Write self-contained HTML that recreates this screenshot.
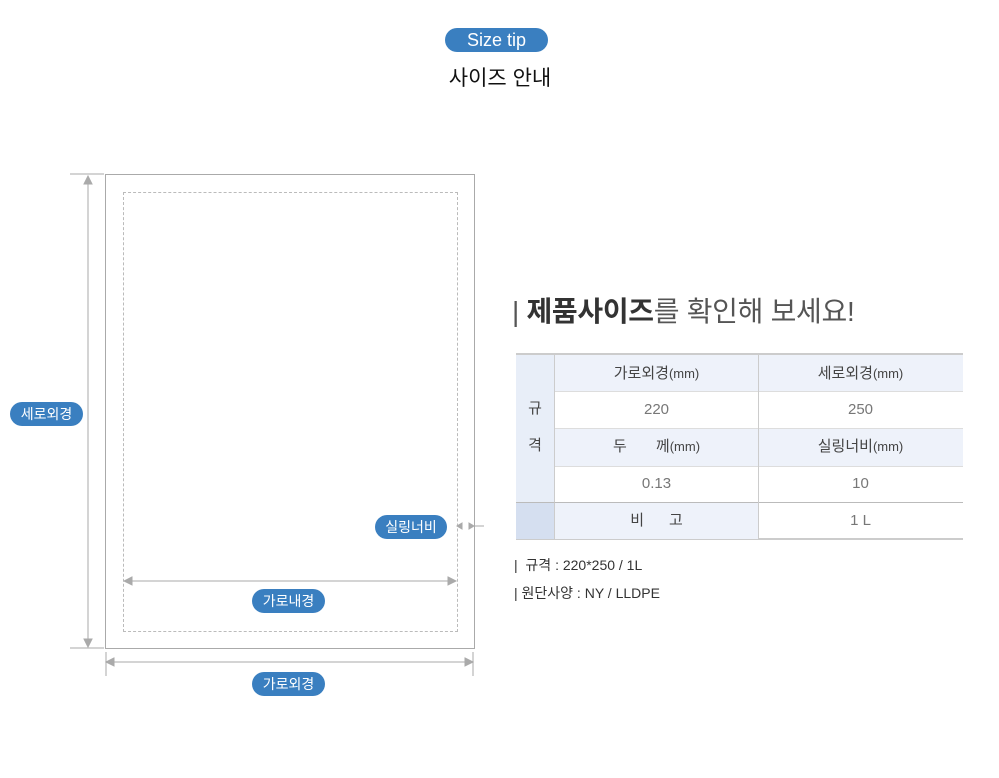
<!DOCTYPE html>
<html><head><meta charset="utf-8"><style>
body{margin:0;width:999px;height:778px;background:#fff;position:relative;font-family:"Liberation Sans","Noto Sans CJK KR",sans-serif;overflow:hidden}
.a{position:absolute}
.pill{position:absolute;background:#3a7fc0;color:#fff;border-radius:12px;text-align:center;font-size:14px;line-height:24px;height:24px}
.c{position:absolute;text-align:center;font-size:15px;color:#444;line-height:37px}
.v{color:#777}
</style></head><body>
<div class="pill" style="left:445px;top:28px;width:103px;height:24px;font-size:18px;line-height:24px">Size tip</div>
<div class="a" style="left:400px;top:62px;width:200px;text-align:center;font-size:21px;color:#111">사이즈 안내</div>

<div class="a" style="left:105px;top:174px;width:368px;height:473px;border:1px solid #aaa"></div>
<div class="a" style="left:123px;top:192px;width:333px;height:438px;border:1px dashed #bbb"></div>
<svg class="a" style="left:0;top:0" width="999" height="778">
<g stroke="#aaa" fill="#aaa">
<line x1="88" y1="176" x2="88" y2="647"/><path d="M84 184 L88 176 L92 184Z"/><path d="M84 639 L88 647 L92 639Z"/>
<line x1="70" y1="174" x2="104" y2="174"/><line x1="70" y1="648" x2="104" y2="648"/>
<line x1="124" y1="581" x2="456" y2="581"/><path d="M132 577 L124 581 L132 585Z"/><path d="M448 577 L456 581 L448 585Z"/>
<line x1="106" y1="662" x2="473" y2="662"/><path d="M114 658 L106 662 L114 666Z"/><path d="M465 658 L473 662 L465 666Z"/>
<line x1="106" y1="652" x2="106" y2="676"/><line x1="473" y1="652" x2="473" y2="676"/>
<line x1="474" y1="526" x2="484" y2="526"/><path d="M462 523 L457 526 L462 529Z"/><path d="M469 523 L474 526 L469 529Z"/>
</g></svg>
<div class="pill" style="left:10px;top:402px;width:73px">세로외경</div>
<div class="pill" style="left:375px;top:515px;width:72px">실링너비</div>
<div class="pill" style="left:252px;top:589px;width:73px">가로내경</div>
<div class="pill" style="left:252px;top:672px;width:73px">가로외경</div>

<div class="a" style="left:512px;top:290px;font-size:28px;color:#333;letter-spacing:-0.3px"><span style="color:#555">|</span> <b>제품사이즈</b><span style="color:#555">를 확인해 보세요!</span></div>

<div class="a" style="left:516px;top:353px;width:447px;height:187px;border-top:2px solid #ccc;border-bottom:2px solid #ccc;box-sizing:border-box"></div>
<div class="a" style="left:516px;top:355px;width:38px;height:147px;background:#e8eef8;border-right:1px solid #ccc"></div>
<div class="a" style="left:516px;top:502px;width:38px;height:36px;background:#d5dff0;border-right:1px solid #ccc;border-top:1px solid #bbb"></div>
<div class="a" style="left:555px;top:355px;width:408px;height:36px;background:#eef2fa;border-bottom:1px solid #ddd"></div>
<div class="a" style="left:555px;top:428px;width:408px;height:37px;background:#eef2fa;border-top:1px solid #ddd;border-bottom:1px solid #ddd"></div>
<div class="a" style="left:555px;top:502px;width:203px;height:36px;background:#eef2fa;border-top:1px solid #bbb"></div>
<div class="a" style="left:758px;top:502px;width:205px;border-top:1px solid #bbb"></div>
<div class="a" style="left:758px;top:355px;width:1px;height:183px;background:#ccc"></div>
<div class="c" style="left:516px;top:390px;width:38px">규</div>
<div class="c" style="left:516px;top:427px;width:38px">격</div>
<div class="c" style="left:555px;top:355px;width:203px">가로외경<span style="font-size:13px">(mm)</span></div>
<div class="c" style="left:758px;top:355px;width:205px">세로외경<span style="font-size:13px">(mm)</span></div>
<div class="c v" style="left:555px;top:391px;width:203px">220</div>
<div class="c v" style="left:758px;top:391px;width:205px">250</div>
<div class="c" style="left:555px;top:428px;width:203px">두&nbsp;&nbsp;&nbsp;&nbsp;&nbsp;&nbsp;&nbsp;께<span style="font-size:13px">(mm)</span></div>
<div class="c" style="left:758px;top:428px;width:205px">실링너비<span style="font-size:13px">(mm)</span></div>
<div class="c v" style="left:555px;top:465px;width:203px">0.13</div>
<div class="c v" style="left:758px;top:465px;width:205px">10</div>
<div class="c" style="left:555px;top:502px;width:203px">비&nbsp;&nbsp;&nbsp;&nbsp;&nbsp;&nbsp;고</div>
<div class="c v" style="left:758px;top:502px;width:205px">1 L</div>

<div class="a" style="left:514px;top:555px;font-size:14px;color:#333">|&nbsp; 규격 : 220*250 / 1L</div>
<div class="a" style="left:514px;top:583px;font-size:14px;color:#333">| 원단사양 : NY / LLDPE</div>
</body></html>
